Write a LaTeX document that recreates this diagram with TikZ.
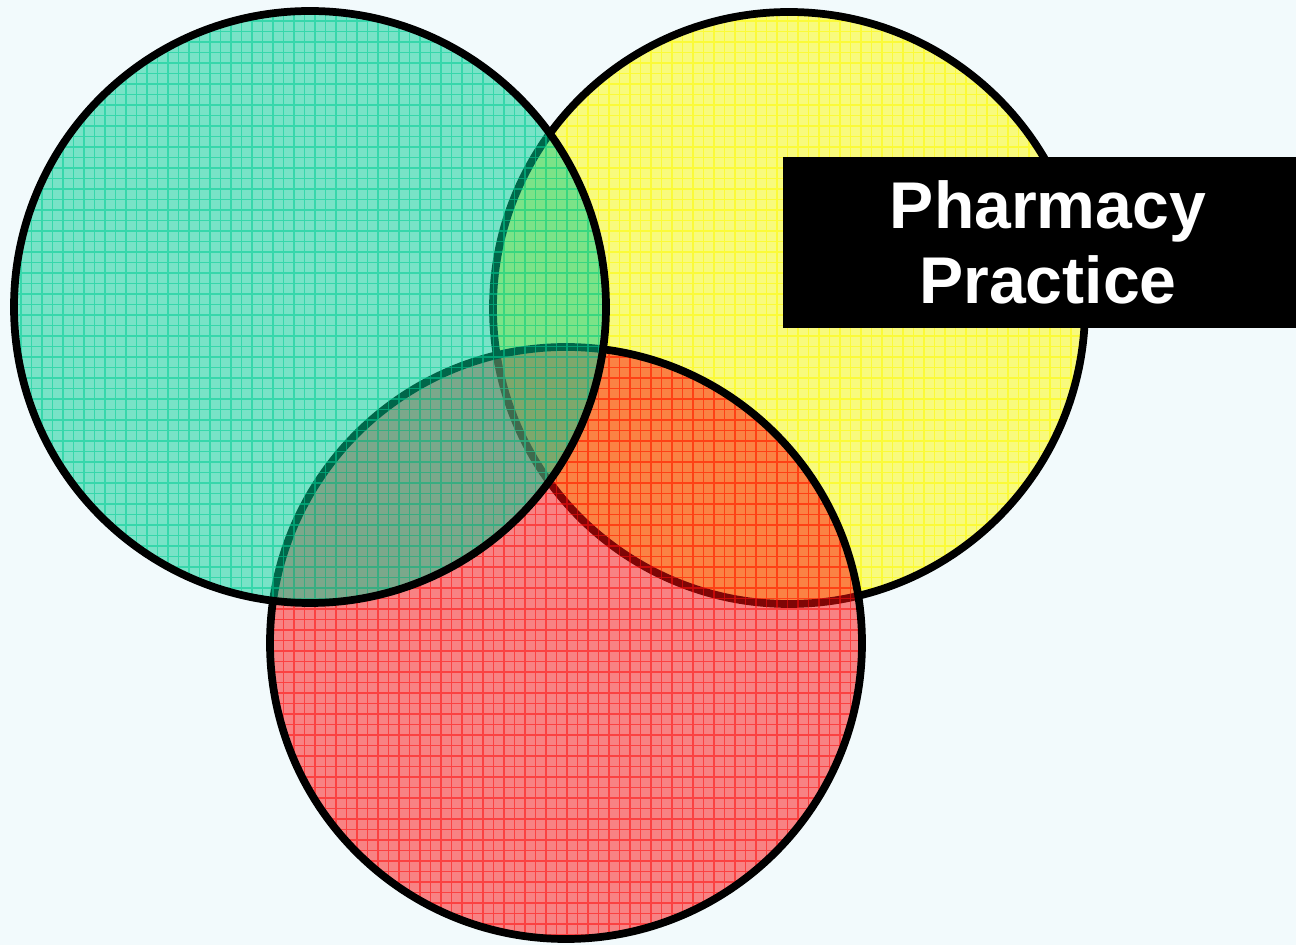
\documentclass[tikz,border=0pt]{standalone}
\usepackage{fontspec}
\newfontfamily\labelfont{Liberation Sans}
\usepackage{tikz}
\definecolor{bgcol}{RGB}{242,250,252}
\definecolor{greencol}{RGB}{0,206,148}
\definecolor{yellowcol}{RGB}{255,250,0}
\definecolor{redcol}{RGB}{255,12,12}
\tikzset{
	ring/.style={line width=2.2pt, draw=black},
	gridlines/.style={line width=0.3pt, opacity=0.55},
	tagbox/.style={fill=black, text=white, inner sep=0pt, align=center,
		minimum width=5.13cm, minimum height=1.71cm,
		font=\labelfont\bfseries\fontsize{18.8}{21.3}\selectfont}
}
\def\gridcircle(#1)#2{
	\fill[#2, fill opacity=0.5] (#1) circle[radius=296];
	\begin{scope}
		\clip (#1) circle[radius=296];
		\draw[gridlines, #2, step=10.5] (0,0) grid (1296,945);
	\end{scope}
	\draw[ring] (#1) circle[radius=296];
}

\begin{document}
\begin{tikzpicture}[x=0.01cm, y=0.01cm]
			%%%%% START %%%%%
			
			\fill[bgcol] (0, 0) rectangle (1296, 945);
			\useasboundingbox (0, 0) rectangle (1296, 945);
			
			\gridcircle(789, 637){yellowcol}
			\gridcircle(566, 302){redcol}
			\gridcircle(310, 638){greencol}
			
			\node[tagbox] (pharmacy) at (1039.5, 702.5) {\hspace*{12\pgflinewidth}Pharmacy\\\hspace*{12\pgflinewidth}Practice};
			
			%%%%% END %%%%%
\end{tikzpicture}
\end{document}
